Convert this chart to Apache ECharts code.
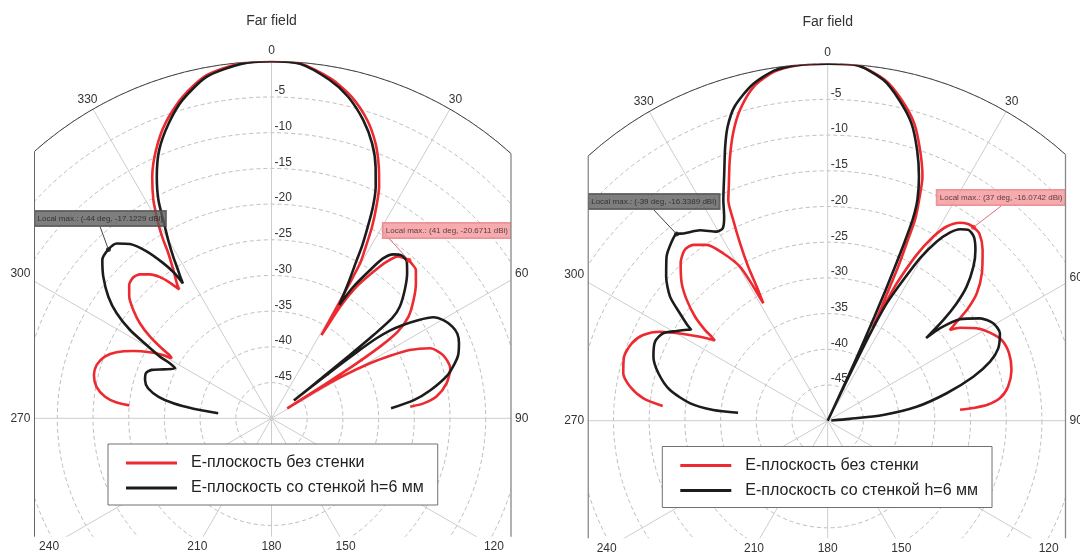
<!DOCTYPE html>
<html>
<head>
<meta charset="utf-8">
<script src="https://cdn.jsdelivr.net/npm/echarts@6/dist/echarts.min.js"></script>
<style>
html,body{margin:0;padding:0;overflow:hidden;background:#fff;width:1080px;height:555px;}
#c1{position:absolute;left:0;top:0;width:540px;height:555px;}
#c2{position:absolute;left:540px;top:0;width:600px;height:555px;}
</style>
</head>
<body>
<div id="c1"></div>
<div id="c2"></div>
<script>
// ---------------- data ----------------
const angleTicks = [0, 30, 60, 90, 120, 150, 180, 210, 240, 270, 300, 330];
const dbMin = -50, dbMax = 0, dbStep = 5;
const seriesNames = ['Е-плоскость без стенки', 'Е-плоскость со стенкой h=6 мм'];
const titleText = 'Far field';

// [angle deg, dB]
const leftRed = [
[-84.8,-30.0],[-84.2,-28.2],[-82.6,-26.5],[-79.8,-25.1],[-76.3,-24.4],[-73.0,-24.4],[-69.7,-25.1],[-66.9,-26.4],[-64.0,-28.5],[-61.5,-30.6],[-59.7,-32.4],[-59.0,-33.7],[-58.2,-33.2],[-57.5,-31.8],[-56.1,-29.5],[-54.2,-27.3],[-51.9,-25.4],[-49.5,-23.8],[-46.9,-22.7],[-44.4,-22.35],[-42.4,-22.7],[-40.2,-23.6],[-38.3,-24.8],[-36.8,-26.3],[-35.6,-27.8],[-35.2,-27.1],[-33.5,-25.1],[-32.0,-22.7],[-31.25,-20.8],[-30.4,-18.9],[-29.6,-17.4],[-28.4,-15.2],[-26.3,-12.3],[-23.3,-9.1],[-19.8,-6.1],[-15.5,-3.3],[-10.7,-1.1],[-4.9,-0.1],[0,0],[4.6,-0.13],[9.9,-1.7],[14.0,-3.6],[17.75,-6.1],[20.7,-8.8],[23.1,-11.7],[24.9,-14.2],[26.35,-16.9],[27.7,-19.7],[28.8,-22.6],[29.75,-25.0],[30.1,-28.5],[30.4,-31.5],[30.7,-34.2],[31.0,-36.4],[31.3,-34.3],[31.6,-31.6],[32.9,-28.0],[34.8,-25.0],[36.3,-22.8],[38.1,-21.2],[40.0,-20.8],[41.0,-20.67],[42.0,-20.75],[44.2,-21.0],[46.9,-22.3],[50.2,-24.1],[53.4,-26.1],[55.5,-28.5],[56.5,-31.5],[57.2,-36],[57.6,-41],[58.0,-47.4],[58.5,-42],[59.3,-38.5],[60.8,-34.2],[62.2,-31.2],[63.7,-28.4],[66.2,-25.7],[69.8,-24.4],[74.4,-24.0],[78.7,-25.0],[82.5,-26.7],[84.4,-28.6],[85.2,-30.5]
];
const leftBlack = [
[-84.6,-42.5],[-83.0,-39.0],[-81.3,-36.1],[-79.2,-33.9],[-76.3,-32.2],[-73.2,-31.5],[-70.3,-31.3],[-68.0,-31.9],[-65.6,-33.4],[-62.6,-34.8],[-61.6,-33.8],[-61.1,-32.2],[-59.6,-29.7],[-58.0,-26.6],[-55.85,-23.8],[-53.3,-21.5],[-49.9,-19.2],[-46.9,-17.55],[-44.0,-17.12],[-41.5,-17.3],[-39.1,-18.55],[-36.8,-20.8],[-34.9,-23.5],[-33.8,-25.5],[-33.3,-27.4],[-32.9,-26.6],[-32.15,-25.3],[-31.3,-23.5],[-30.1,-21.15],[-29.1,-19.3],[-27.4,-15.6],[-25.4,-12.55],[-22.7,-9.25],[-19.2,-6.25],[-15.6,-3.7],[-10.7,-1.3],[-4.9,-0.2],[0,0],[4.6,-0.2],[9.7,-1.9],[13.4,-3.7],[17.1,-6.3],[20.1,-9.0],[22.5,-11.9],[24.2,-14.4],[25.6,-17.1],[26.7,-20.0],[27.75,-22.8],[28.3,-24.8],[29.6,-28.25],[30.9,-31.5],[31.9,-28.3],[33.6,-25.1],[34.9,-22.7],[36.6,-21.4],[38.6,-20.8],[40.8,-21.0],[43.1,-22.2],[46.1,-24.1],[49.0,-26.2],[50.3,-28.0],[50.8,-31.5],[51.1,-36],[51.3,-41],[51.5,-46],[51.8,-40],[52.2,-35],[52.7,-31.5],[53.5,-29.3],[54.5,-27.6],[56.2,-25.3],[58.0,-23.3],[60.5,-22.2],[63.1,-21.6],[65.5,-21.4],[68.1,-21.7],[71.3,-22.4],[73.3,-23.2],[76.2,-24.6],[79.9,-27.35],[82.7,-29.9],[85.2,-33.2]
];
const rightRed = [
[-84.9,-26.8],[-83.1,-24.0],[-80.2,-21.9],[-76.9,-20.6],[-72.55,-20.1],[-68.45,-20.5],[-65.1,-21.5],[-62.05,-23.4],[-59.4,-26.0],[-56.7,-28.6],[-54.6,-30.6],[-54.1,-29.9],[-53.5,-28.6],[-51.9,-26.4],[-49.4,-24.0],[-46.7,-21.9],[-43.0,-19.8],[-39.9,-18.8],[-37.4,-19.0],[-34.55,-20.1],[-31.95,-22.4],[-29.65,-25.2],[-29.0,-28.5],[-28.75,-31.25],[-27.9,-28.8],[-27.3,-25.7],[-26.3,-22.3],[-25.2,-18.9],[-24.25,-16.1],[-22.9,-14.4],[-20.6,-11.0],[-18.2,-7.6],[-15.8,-4.8],[-12.5,-2.1],[-8.7,-0.55],[-4.7,-0.05],[0,0],[4.7,-0.05],[9.5,-1.6],[13.0,-3.9],[16.2,-6.6],[18.85,-9.95],[21.2,-13.3],[22.5,-16.55],[23.5,-19.35],[24.0,-22.8],[24.6,-26.3],[24.9,-29.3],[25.35,-32.3],[25.8,-35.6],[26.2,-32.0],[26.7,-28.5],[28.2,-23.65],[29.85,-20.3],[31.5,-18.1],[33.75,-16.65],[35.5,-16.15],[37.0,-16.07],[39.0,-16.25],[42.2,-17.7],[46.25,-20.1],[49.5,-22.55],[51.5,-25.1],[52.5,-27.2],[53.4,-28.7],[54.9,-27.35],[58.2,-25.45],[61.5,-24.15],[65.1,-23.15],[69.6,-22.9],[74.6,-23.3],[79.3,-24.3],[82.6,-25.7],[84.4,-27.6],[85.0,-29.55],[85.3,-31.4]
];
const rightBlack = [
[-84.9,-37.4],[-84.65,-33.9],[-82.8,-30.6],[-79.0,-27.5],[-74.4,-25.4],[-69.85,-24.0],[-65.4,-23.4],[-62.0,-23.9],[-59.3,-25.4],[-57.0,-26.6],[-56.3,-27.0],[-55.7,-26.2],[-54.0,-24.4],[-51.8,-21.9],[-48.3,-19.7],[-44.5,-17.8],[-41.1,-16.75],[-39.0,-16.34],[-37.6,-16.9],[-33.8,-17.9],[-30.4,-19.3],[-28.6,-19.3],[-26.95,-18.0],[-25.3,-15.8],[-22.7,-12.45],[-20.5,-9.0],[-18.8,-6.5],[-16.5,-4.1],[-12.7,-1.8],[-8.7,-0.4],[-4.7,0],[0,0],[4.4,0],[9.2,-1.6],[12.6,-4.0],[15.7,-6.7],[18.3,-10.1],[20.5,-13.5],[22.1,-16.6],[22.9,-19.4],[23.3,-22.9],[23.6,-26.5],[23.9,-30],[24.2,-34],[24.5,-38.5],[24.8,-43],[25.0,-47],[25.2,-50],[25.4,-46],[25.6,-42],[25.9,-38],[26.2,-34.5],[26.7,-31.6],[28.25,-27.6],[29.6,-23.8],[31.3,-20.65],[33.0,-18.6],[34.65,-17.4],[36.4,-16.8],[38.5,-17.1],[40.9,-18.4],[43.4,-20.3],[46.05,-23.0],[47.7,-25.6],[48.95,-28.5],[50.0,-32.0],[50.55,-29.6],[52.5,-26.65],[56.1,-24.3],[59.5,-23.1],[63.1,-22.95],[67.0,-24.05],[70.0,-25.8],[73.2,-28.7],[77.0,-32.9],[81.1,-37.4],[84.1,-42.2],[85.3,-46.9],[86.0,-49.5]
];
// local maxima annotations: [series index, angle, dB]
const leftMarks = [[1, -44, -17.1229], [0, 41, -20.6711]];
const rightMarks = [[1, -39, -16.3389], [0, 37, -16.0742]];

// ---------------- layout / style ----------------
const FONT = 'Liberation Sans, Arial, sans-serif';
const RED = '#ec2a30', BLACK = '#1c1c1c';
const layoutL = {cx: 271.5, cy: 418.3, R: 357, L: 34.5, Rr: 511, B: 536.7, titleTop: 14,
  legend: {x: 108, y: 444}, boxes: [{x: 34.5, y: 211, align: 'left'}, {x: 511, y: 223, align: 'right'}]};
const layoutR = {cx: 287.7, cy: 420.7, R: 357, L: 48.2, Rr: 525.5, B: 538.3, titleTop: 15,
  legend: {x: 122.3, y: 446.5}, boxes: [{x: 48.2, y: 194, align: 'left'}, {x: 525.5, y: 190, align: 'right'}]};

function angleLabel(a, lay) {
  const t = a * Math.PI / 180;
  const dx = Math.sin(t), dy = -Math.cos(t);
  const txt = String(a);
  const w = 6.7 * txt.length, h = 12;
  let px = lay.cx + (lay.R + 11) * dx, py = lay.cy + (lay.R + 11) * dy;
  if (!(px >= lay.L && px <= lay.Rr && py <= lay.B)) {
    let best = null;
    if (dx < -1e-9) { const tt = (lay.L - lay.cx) / dx; if (!best || tt < best.t) best = {t: tt, side: 'L'}; }
    if (dx > 1e-9) { const tt = (lay.Rr - lay.cx) / dx; if (!best || tt < best.t) best = {t: tt, side: 'R'}; }
    if (dy > 1e-9) { const tt = (lay.B - lay.cy) / dy; if (!best || tt < best.t) best = {t: tt, side: 'B'}; }
    if (best.side === 'L') { px = lay.L - 4 - w / 2; py = lay.cy + (px - lay.cx) / dx * dy; }
    else if (best.side === 'R') { px = lay.Rr + 4 + w / 2; py = lay.cy + (px - lay.cx) / dx * dy; }
    else { py = lay.B + 4 + h / 2; px = lay.cx + (py - lay.cy) / dy * dx; }
  }
  return {type: 'text', x: px, y: py, z: 120, silent: true,
    style: {text: txt, fill: '#333', fontSize: 12, fontFamily: FONT, align: 'center', verticalAlign: 'middle',
      textAlign: 'center', textVerticalAlign: 'middle'}};
}

function buildOption(lay, red, black, marks) {
  const toPolar = arr => arr.map(p => [p[1], (p[0] + 360) % 360]);
  const yTop = lay.cy - Math.sqrt(lay.R * lay.R - Math.pow(lay.cx - lay.L, 2));
  const yTopR = lay.cy - Math.sqrt(lay.R * lay.R - Math.pow(lay.Rr - lay.cx, 2));
  const graphics = [
    {type: 'rect', shape: {x: -20, y: -20, width: lay.L + 20, height: 620}, style: {fill: '#fff'}, z: 100, silent: true},
    {type: 'rect', shape: {x: lay.Rr, y: -20, width: 300, height: 620}, style: {fill: '#fff'}, z: 100, silent: true},
    {type: 'rect', shape: {x: -20, y: lay.B, width: 800, height: 100}, style: {fill: '#fff'}, z: 100, silent: true},
    {type: 'line', shape: {x1: lay.L, y1: yTop, x2: lay.L, y2: lay.B}, style: {stroke: '#666', lineWidth: 1}, z: 110, silent: true},
    {type: 'line', shape: {x1: lay.Rr, y1: yTopR, x2: lay.Rr, y2: lay.B}, style: {stroke: '#888', lineWidth: 1.3}, z: 110, silent: true}
  ].concat(angleTicks.map(a => angleLabel(a, lay)));

  const markSeries = marks.map((m, i) => {
    const isRed = m[0] === 0;
    const box = lay.boxes[i];
    return {
      type: 'scatter', coordinateSystem: 'polar', z: 5, silent: true,
      data: [[m[2], (m[1] + 360) % 360]],
      symbolSize: 5, itemStyle: {color: isRed ? RED : BLACK},
      label: {show: true, formatter: 'Local max.: (' + m[1] + ' deg, ' + m[2] + ' dBi)',
        fontSize: 8, fontFamily: FONT, lineHeight: 10, padding: [3, 3, 2, 3],
        color: isRed ? '#3a2020' : '#1e1e1e',
        backgroundColor: isRed ? '#f4979b' : '#5e5e5e',
        borderColor: isRed ? '#e37a7f' : '#4a4a4a', borderWidth: 1},
      labelLayout: {x: box.x, y: box.y, align: box.align, verticalAlign: 'top'},
      labelLine: {show: true, lineStyle: {color: isRed ? '#e07078' : '#444', width: 1}}
    };
  });

  return {
    animation: false,
    backgroundColor: '#fff',
    title: {text: titleText, left: lay.cx, top: lay.titleTop, textAlign: 'center', padding: 0,
      textStyle: {fontSize: 14, fontWeight: 'normal', color: '#333', fontFamily: FONT}},
    polar: {center: [lay.cx, lay.cy], radius: lay.R},
    angleAxis: {type: 'value', min: 0, max: 360, interval: 30, startAngle: 90, clockwise: true,
      axisLine: {lineStyle: {color: '#444', width: 1}}, axisTick: {show: false}, axisLabel: {show: false},
      splitLine: {lineStyle: {color: '#cdcdcd', width: 1}}},
    radiusAxis: {type: 'value', min: dbMin, max: dbMax, interval: dbStep,
      axisLine: {show: false}, axisTick: {show: false},
      axisLabel: {show: true, margin: -3, align: 'left', verticalAlign: 'bottom', fontSize: 12, color: '#333', fontFamily: FONT,
        formatter: v => (v === dbMin || v === dbMax) ? '' : String(v)},
      splitLine: {lineStyle: {type: [4, 3], color: '#bdbdbd', width: 1}}},
    legend: {data: seriesNames, orient: 'vertical', left: lay.legend.x, top: lay.legend.y, icon: 'rect',
      itemWidth: 51, itemHeight: 3, itemGap: 9, padding: [11, 14, 9, 18], selectedMode: false,
      backgroundColor: '#fff', borderColor: '#707070', borderWidth: 1, z: 20,
      textStyle: {fontSize: 16, color: '#222', fontFamily: FONT, padding: [0, 0, 0, 9]}},
    series: [
      {name: seriesNames[0], type: 'line', coordinateSystem: 'polar', data: toPolar(red), symbol: 'none', showSymbol: false,
        smooth: 0.25, lineStyle: {color: RED, width: 2.6}, itemStyle: {color: RED}, z: 3, silent: true},
      {name: seriesNames[1], type: 'line', coordinateSystem: 'polar', data: toPolar(black), symbol: 'none', showSymbol: false,
        smooth: 0.25, lineStyle: {color: BLACK, width: 2.6}, itemStyle: {color: BLACK}, z: 4, silent: true}
    ].concat(markSeries),
    graphic: graphics
  };
}

const ch1 = echarts.init(document.getElementById('c1'));
ch1.setOption(buildOption(layoutL, leftRed, leftBlack, leftMarks));
const ch2 = echarts.init(document.getElementById('c2'));
ch2.setOption(buildOption(layoutR, rightRed, rightBlack, rightMarks));
</script>
</body>
</html>
